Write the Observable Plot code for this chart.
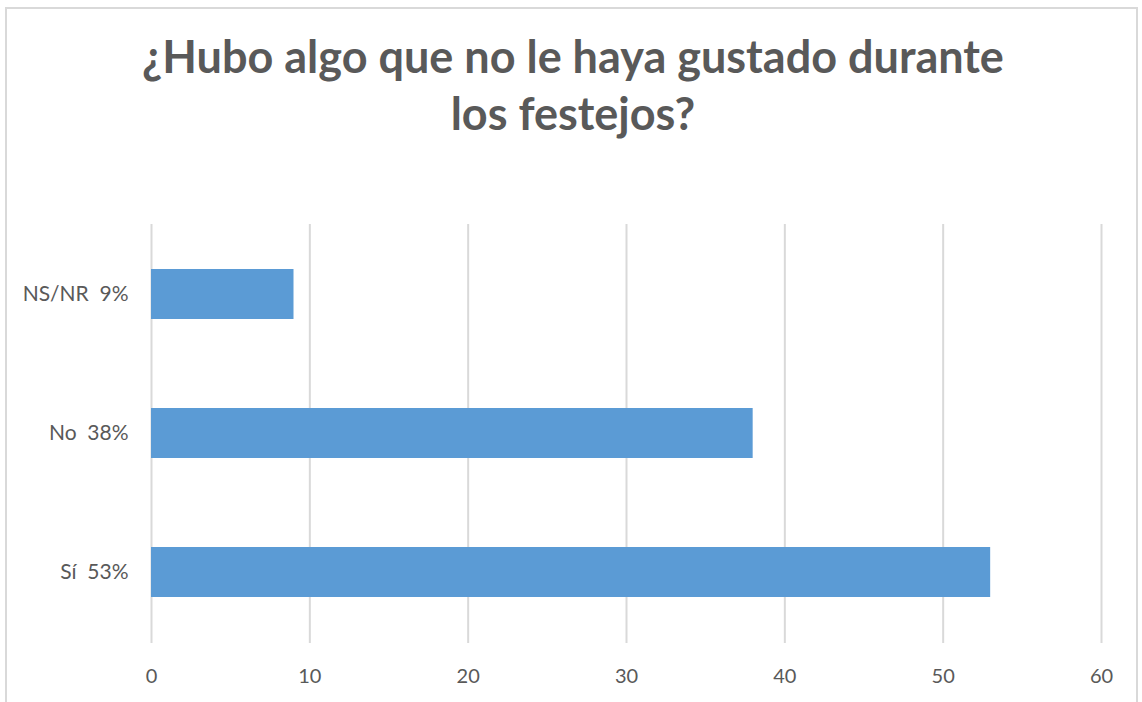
<!DOCTYPE html>
<html>
<head>
<meta charset="utf-8">
<script src="https://cdn.jsdelivr.net/npm/d3@7"></script>
<script src="https://cdn.jsdelivr.net/npm/@observablehq/plot@0.6"></script>
<style>
  html, body { margin: 0; padding: 0; background: #ffffff; }
  #wrap { position: relative; width: 1142px; height: 702px; overflow: hidden; background: #fff; }
  #frame { position: absolute; left: 5px; top: 7px; width: 1133px; height: 720px; border: 2px solid #d9d9d9; box-sizing: border-box; }
  #title { position: absolute; left: 0; top: 0; width: 1146px; height: 180px; text-align: center;
           font-family: Lato, "Open Sans", sans-serif; font-weight: 700; font-size: 45px; line-height: 57px;
           color: #595959; padding-top: 28px; box-sizing: border-box; }
  #chart { position: absolute; left: 0; top: 180px; }
  svg text { white-space: pre; }
</style>
</head>
<body>
<div id="wrap">
  <div id="frame"></div>
  <div id="title">¿Hubo algo que no le haya gustado durante<br>los festejos?</div>
  <div id="chart"></div>
</div>
<script>
const categories = ["NS/NR  9%", "No  38%", "Sí  53%"];
const values = [9, 38, 53];
const xTicks = [0, 10, 20, 30, 40, 50, 60];

const data = categories.map((c, i) => ({label: c, value: values[i]}));

const chart = Plot.plot({
  width: 1142,
  height: 522,
  marginTop: 44,
  marginBottom: 59,
  marginLeft: 151,
  marginRight: 41,
  style: {fontFamily: "Lato, 'Open Sans', sans-serif", fontSize: "20px", color: "#595959", background: "transparent"},
  x: {domain: [0, 60]},
  y: {domain: categories, paddingInner: 0.64, paddingOuter: 0.32},
  marks: [
    Plot.ruleX(xTicks, {stroke: "#d9d9d9", strokeWidth: 2, strokeOpacity: 1}),
    Plot.barX(data, {x: "value", y: "label", fill: "#5B9BD5"}),
    Plot.axisX({ticks: xTicks, tickSize: 0, tickPadding: 25, label: null, fill: "#595959"}),
    Plot.axisY({tickSize: 0, tickPadding: 23, label: null, fill: "#595959", fontSize: 21})
  ]
});
document.getElementById("chart").appendChild(chart);
</script>
</body>
</html>
